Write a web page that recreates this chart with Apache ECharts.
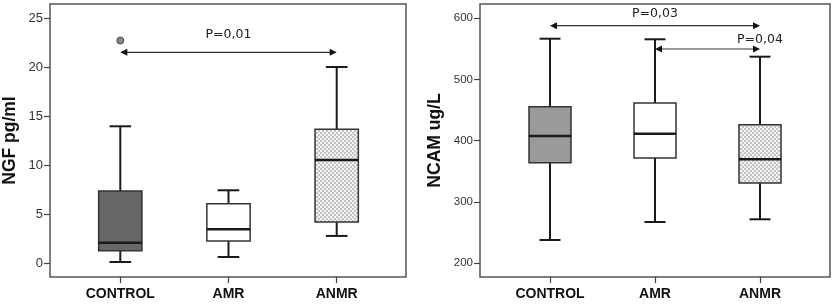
<!DOCTYPE html>
<html>
<head>
<meta charset="utf-8">
<script src="https://cdn.jsdelivr.net/npm/echarts@6/dist/echarts.min.js"></script>
<style>
  html, body { margin: 0; padding: 0; background: #fff; }
  #chart { width: 835px; height: 306px; }
</style>
</head>
<body>
<div id="chart"></div>
<script>
const groups = ['CONTROL', 'AMR', 'ANMR'];
// box stats per group: [min, Q1, median, Q3, max]
const ngfBoxes = [
  [0.1, 1.26, 2.07, 7.35, 13.95],
  [0.61, 2.24, 3.44, 6.05, 7.42],
  [2.76, 4.18, 10.5, 13.64, 20]
];
const ngfOutliers = [[0, 22.7]];
const ncamBoxes = [
  [237.6, 363.9, 407.5, 455.4, 566.5],
  [267, 371.6, 411.3, 461.4, 565.5],
  [271.4, 330.7, 369.4, 426, 537.1]
];
// comparison arrows: [from (group index), to (group index), value]
const ngfArrows = [[-0.16, 1.957, 21.5]];
const ngfPvalues = [[1.088, 23.3, 'P=0,01']];
const ncamArrows = [[-0.143, 1.993, 587.7], [1.095, 2.159, 549.7]];
const ncamPvalues = [[1.111, 608, 'P=0,03'], [1.793, 565.5, 'P=0,04']];
const ngfTicks = [0, 5, 10, 15, 20, 25];
const ncamTicks = [200, 300, 400, 500, 600];
// visible value range of each frame
const ngfRange = [-1.43, 26.43];
const ncamRange = [177.1, 623.2];

// dotted fill for the ANMR boxes
function makeDots() {
  const c = document.createElement('canvas');
  c.width = 4; c.height = 4;
  const g = c.getContext('2d');
  g.fillStyle = '#f2f2f2'; g.fillRect(0, 0, 4, 4);
  g.fillStyle = '#c4c4c4';
  g.fillRect(0, 0, 2, 2); g.fillRect(2, 2, 2, 2);
  return { image: c, repeat: 'repeat' };
}
const dots = makeDots();

function boxRender(fills) {
  return function (params, api) {
    const i = api.value(0);
    const lo = api.coord([i, api.value(1)]);
    const q1 = api.coord([i, api.value(2)]);
    const md = api.coord([i, api.value(3)]);
    const q3 = api.coord([i, api.value(4)]);
    const hi = api.coord([i, api.value(5)]);
    const band = api.size([1, 0])[0];
    const bw = band * 0.4, cw = band * 0.2;
    const x = lo[0];
    const line = (x1, y1, x2, y2, w) => ({
      type: 'line', shape: { x1, y1, x2, y2 },
      style: { stroke: '#1a1a1a', lineWidth: w }
    });
    return {
      type: 'group',
      children: [
        line(x, hi[1], x, q3[1], 2),
        line(x, q1[1], x, lo[1], 2),
        line(x - cw / 2, hi[1], x + cw / 2, hi[1], 2),
        line(x - cw / 2, lo[1], x + cw / 2, lo[1], 2),
        {
          type: 'rect',
          shape: { x: x - bw / 2, y: q3[1], width: bw, height: q1[1] - q3[1] },
          style: { fill: fills[i], stroke: '#333', lineWidth: 1.5 }
        },
        line(x - bw / 2, md[1], x + bw / 2, md[1], 2.5)
      ]
    };
  };
}

function arrowRender(params, api) {
  const a = api.coord([api.value(0), api.value(2)]);
  const b = api.coord([api.value(1), api.value(2)]);
  const h = 7, w = 3.5;
  return {
    type: 'group',
    children: [
      { type: 'line', shape: { x1: a[0] + 2, y1: a[1], x2: b[0] - 2, y2: b[1] }, style: { stroke: '#333', lineWidth: 1.2 } },
      { type: 'polygon', shape: { points: [[a[0], a[1]], [a[0] + h, a[1] - w], [a[0] + h, a[1] + w]] }, style: { fill: '#111' } },
      { type: 'polygon', shape: { points: [[b[0], b[1]], [b[0] - h, b[1] - w], [b[0] - h, b[1] + w]] }, style: { fill: '#111' } }
    ]
  };
}

function pRender(list) {
  return function (params, api) {
    const p = api.coord([api.value(0), api.value(1)]);
    return {
      type: 'text', x: p[0], y: p[1],
      style: { text: list[params.dataIndex][2], fill: '#222', font: '12.5px "DejaVu Sans"', align: 'center', verticalAlign: 'middle' }
    };
  };
}

const boxData = boxes => boxes.map((b, i) => [i].concat(b));

function hiddenX(idx) {
  return { type: 'value', gridIndex: idx, show: false, min: 0, max: 1 };
}
function hiddenY(idx, range) {
  return { type: 'value', gridIndex: idx, show: false, min: range[0], max: range[1] };
}
function catAxis(idx) {
  return {
    type: 'category', gridIndex: idx, data: groups,
    axisLine: { show: false, onZero: false },
    axisTick: { show: true, alignWithLabel: true, length: 6, lineStyle: { color: '#444', width: 1.2 } },
    axisLabel: { margin: 10, color: '#111', fontSize: 14, fontWeight: 'bold', fontFamily: 'Liberation Sans' }
  };
}
function valAxis(idx, range, ticks, name, gap, size) {
  return {
    type: 'value', gridIndex: idx, min: range[0], max: range[1],
    name: name, nameLocation: 'middle', nameGap: gap,
    nameTextStyle: { color: '#111', fontSize: 17.5, fontWeight: 'bold', fontFamily: 'Liberation Sans' },
    splitLine: { show: false },
    axisLine: { show: false, onZero: false },
    axisTick: { show: true, length: 6, customValues: ticks, lineStyle: { color: '#444', width: 1.2 } },
    axisLabel: { margin: 7, customValues: ticks, color: '#333', fontSize: size, fontFamily: 'Liberation Sans' }
  };
}

const chart = echarts.init(document.getElementById('chart'), null, { renderer: 'canvas' });
chart.setOption({
  animation: false,
  backgroundColor: '#fff',
  grid: [
    { left: 49, top: 4, width: 357, height: 273, show: true, borderColor: '#555', borderWidth: 1.5, backgroundColor: 'transparent' },
    { left: 66.2, top: 4, width: 324.6, height: 273 },
    { left: 480, top: 4, width: 350, height: 273, show: true, borderColor: '#555', borderWidth: 1.5, backgroundColor: 'transparent' },
    { left: 497.5, top: 4, width: 315, height: 273 }
  ],
  xAxis: [hiddenX(0), catAxis(1), hiddenX(2), catAxis(3)],
  yAxis: [
    valAxis(0, ngfRange, ngfTicks, 'NGF pg/ml', 31, 13),
    hiddenY(1, ngfRange),
    valAxis(2, ncamRange, ncamTicks, 'NCAM ug/L', 36, 11.5),
    hiddenY(3, ncamRange)
  ],
  series: [
    {
      type: 'custom', xAxisIndex: 1, yAxisIndex: 1,
      renderItem: boxRender(['#676767', '#ffffff', dots]),
      encode: { x: 0, y: [1, 2, 3, 4, 5] },
      data: boxData(ngfBoxes)
    },
    {
      type: 'scatter', xAxisIndex: 1, yAxisIndex: 1, symbolSize: 7,
      itemStyle: { color: '#6a6a6a', borderColor: '#333', borderWidth: 1 },
      data: ngfOutliers
    },
    { type: 'custom', xAxisIndex: 1, yAxisIndex: 1, renderItem: arrowRender, data: ngfArrows, encode: { x: [0, 1], y: 2 } },
    { type: 'custom', xAxisIndex: 1, yAxisIndex: 1, renderItem: pRender(ngfPvalues), data: ngfPvalues.map(p => [p[0], p[1]]), encode: { x: 0, y: 1 } },
    {
      type: 'custom', xAxisIndex: 3, yAxisIndex: 3,
      renderItem: boxRender(['#9a9a9a', '#ffffff', dots]),
      encode: { x: 0, y: [1, 2, 3, 4, 5] },
      data: boxData(ncamBoxes)
    },
    { type: 'custom', xAxisIndex: 3, yAxisIndex: 3, renderItem: arrowRender, data: ncamArrows, encode: { x: [0, 1], y: 2 } },
    { type: 'custom', xAxisIndex: 3, yAxisIndex: 3, renderItem: pRender(ncamPvalues), data: ncamPvalues.map(p => [p[0], p[1]]), encode: { x: 0, y: 1 } }
  ]
});
</script>
</body>
</html>
